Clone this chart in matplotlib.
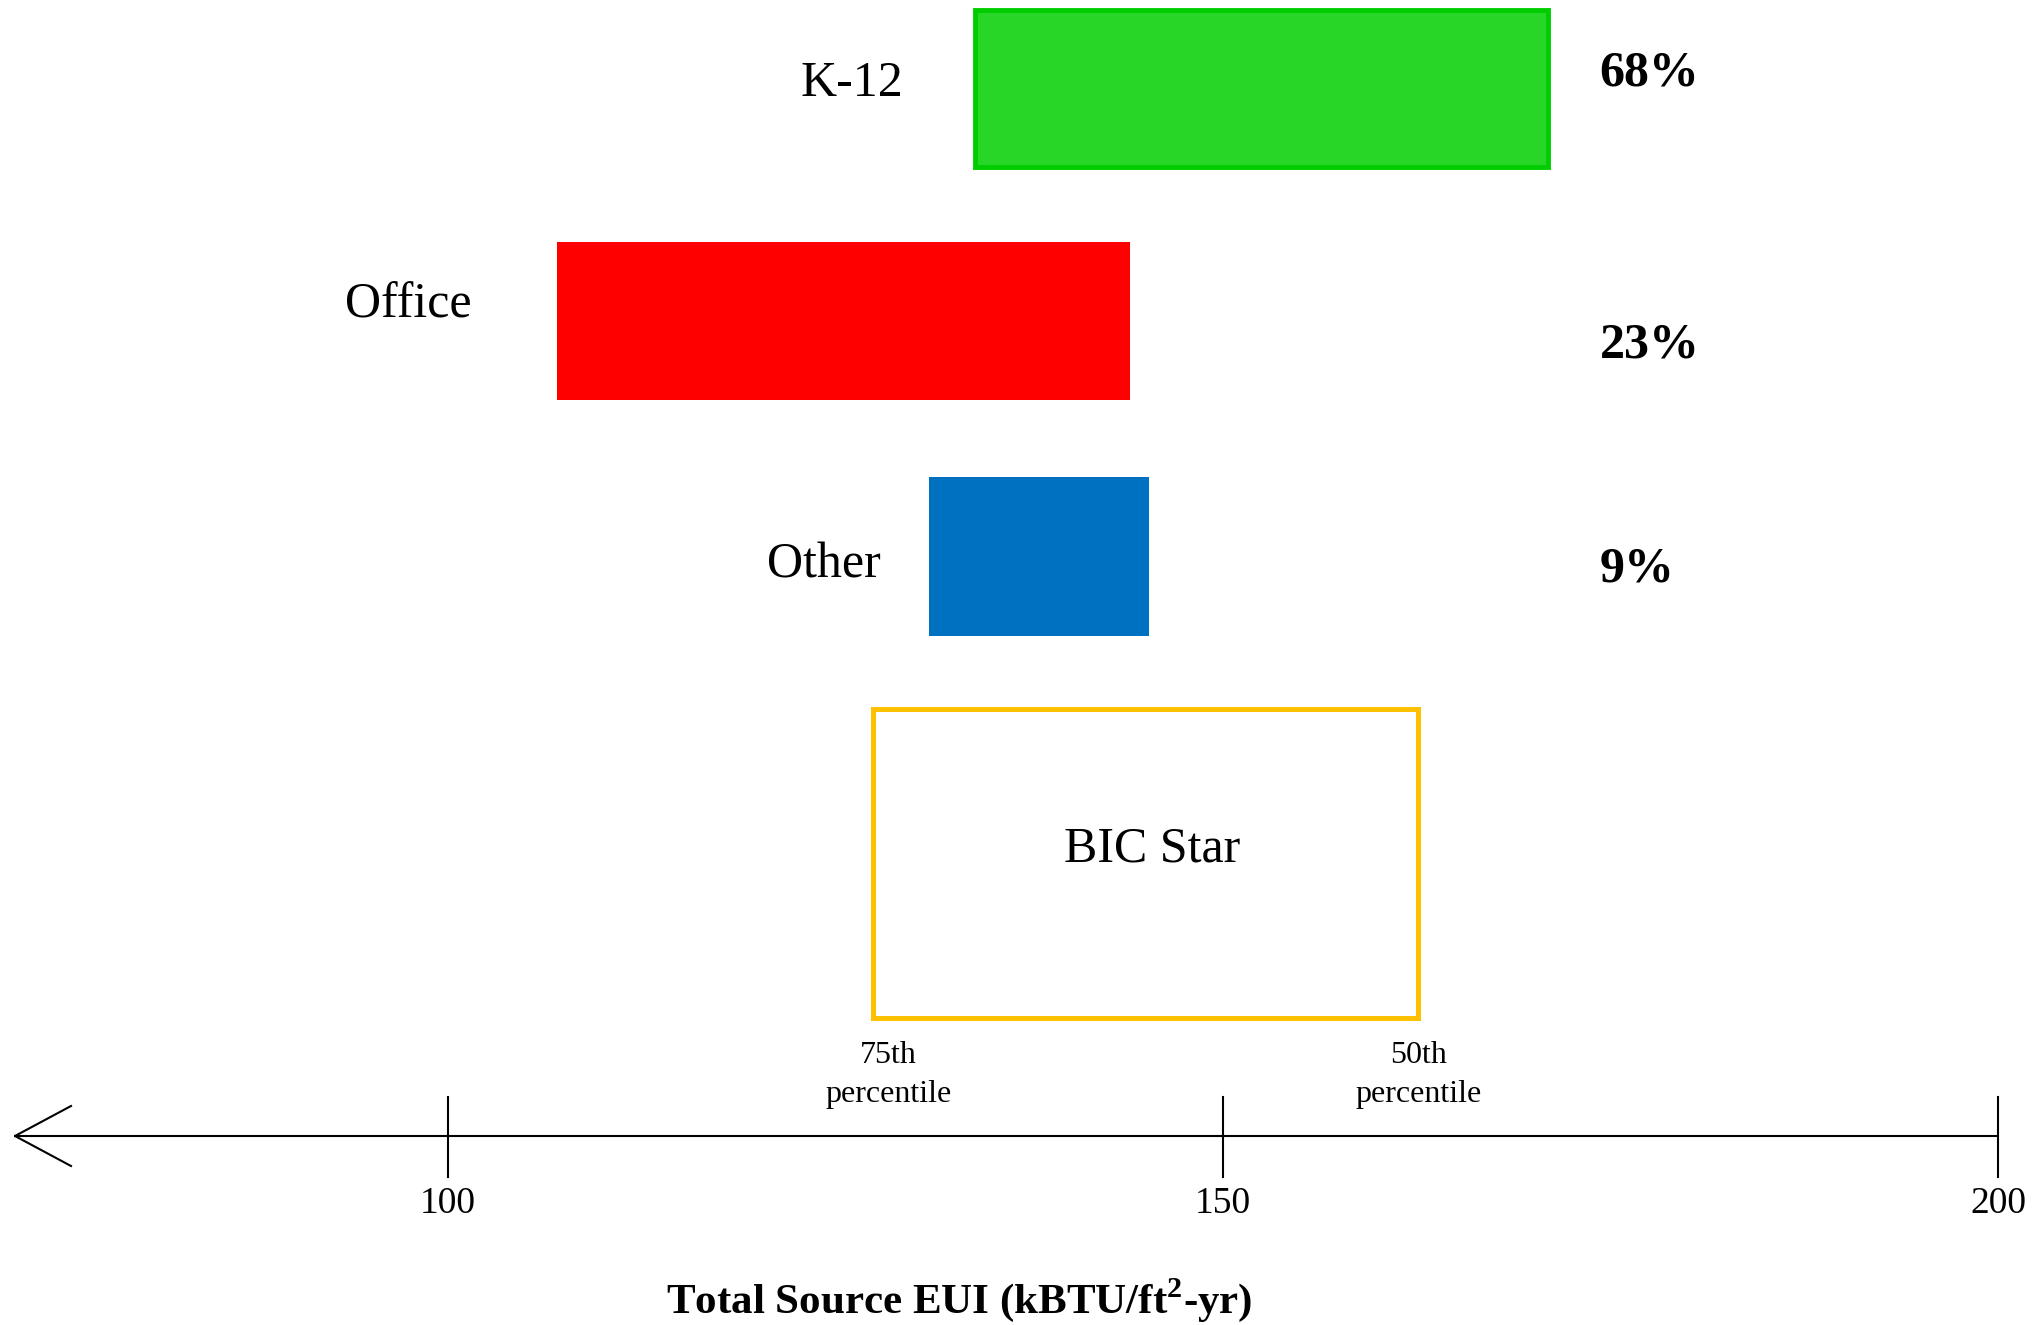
import matplotlib
matplotlib.use("Agg")
import matplotlib.pyplot as plt

plt.rcParams['font.family'] = ['Liberation Serif', 'DejaVu Serif']
plt.rcParams['mathtext.fontset'] = 'custom'
plt.rcParams['mathtext.rm'] = 'Liberation Serif:bold'

# EUI ranges (kBTU/ft2-yr)
categories = ["K-12", "Office", "Other"]
eui_low = [134, 107, 131]
eui_high = [171, 144, 145.2]
shares = ["68%", "23%", "9%"]
bar_fill = ["#28d628", "#ff0000", "#0070c0"]
bar_edge = ["#00cc00", "#ff0000", "#0070c0"]

bic_low, bic_high = 127.4, 162.6      # 75th .. 50th percentile
tick_vals = [100, 150, 200]

W, H = 2043, 1325
fig = plt.figure(figsize=(W/100, H/100), dpi=100)
ax = fig.add_axes([0, 0, 1, 1])
# x in EUI units, y in pixel rows (top = 0)
x0 = 100 - 448/15.5
x1 = 100 + (W - 448)/15.5
ax.set_xlim(x0, x1)
ax.set_ylim(H, 0)

row_y = [88, 321, 556]
row_h = [157, 158, 159]
lw = [3.5, 0, 0]
for i in range(len(categories)):
    ax.barh(row_y[i], eui_high[i] - eui_low[i], left=eui_low[i], height=row_h[i],
            color=bar_fill[i], edgecolor=bar_edge[i], linewidth=lw[i])

# category labels (right aligned, baseline)
lab_x = [129.4, 101.5, 127.9]
lab_base = [96, 317, 577]
for i in range(len(categories)):
    ax.text(lab_x[i], lab_base[i], categories[i], ha='right', va='baseline', fontsize=36)

# share labels
share_base = [85, 358, 581]
for i in range(len(shares)):
    ax.text(174.3, share_base[i], shares[i], ha='left', va='baseline',
            fontsize=36, fontweight='bold')

# BIC Star box
ax.barh(863, bic_high - bic_low, left=bic_low, height=309, color='none',
        edgecolor='#ffc000', linewidth=3.6)
ax.text(145.4, 862, "BIC Star", ha='center', va='baseline', fontsize=36)

ax.text(bic_low + 1.0, 1063, "75th", ha='center', va='baseline', fontsize=23)
ax.text(bic_low + 1.0, 1102, "percentile", ha='center', va='baseline', fontsize=23)
ax.text(bic_high, 1063, "50th", ha='center', va='baseline', fontsize=23)
ax.text(bic_high, 1102, "percentile", ha='center', va='baseline', fontsize=23)

# number line with open arrow on the left
axis_y = 1136
tip = 100 + (15 - 448)/15.5
arm = 100 + (71 - 448)/15.5
ax.plot([tip, 200], [axis_y, axis_y], color='black', lw=1.5)
ax.plot([arm, tip, arm], [axis_y - 30, axis_y, axis_y + 30], color='black', lw=1.5)
for v in tick_vals:
    ax.plot([v, v], [1097, 1177], color='black', lw=1.5)
    ax.text(v, 1213, str(v), ha='center', va='baseline', fontsize=27)

ax.text(133.0, 1313, r"Total Source EUI (kBTU/ft$^{2}$-yr)", ha='center', va='baseline',
        fontsize=31, fontweight='bold')

ax.axis('off')
fig.savefig("out.png", dpi=100)
